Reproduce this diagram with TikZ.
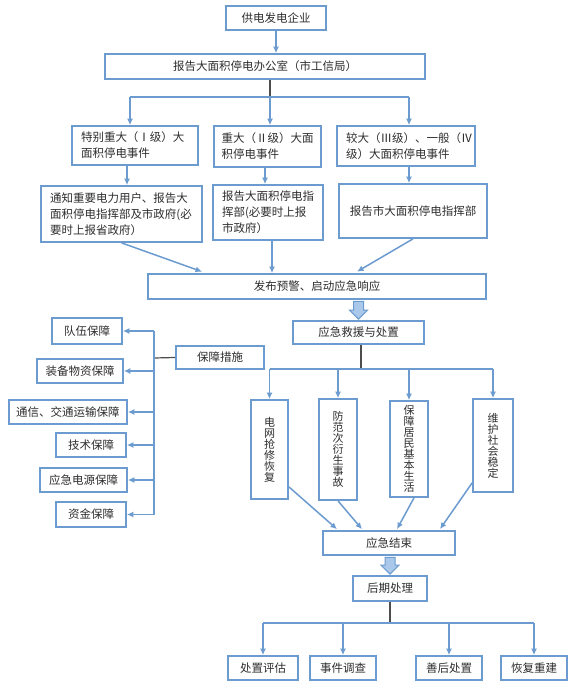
\documentclass[tikz,border=0pt]{standalone}
\usepackage{fontspec}
\newfontfamily\cjk{Noto Sans CJK SC}
\usetikzlibrary{arrows.meta,calc}
\definecolor{bb}{HTML}{6C9BD0}
\definecolor{sg}{HTML}{4D4D4D}
\definecolor{bf}{HTML}{A9C8EA}
\definecolor{tc}{HTML}{2E2E2E}
\tikzset{
  box/.style={draw=bb, line width=1.7pt, inner sep=0pt, text=tc, align=center,
    font=\cjk\fontsize{11.5}{16}\selectfont},
  vbox/.style={box, font=\cjk\fontsize{11}{11}\selectfont},
  arr/.style={draw=bb, line width=1.5pt, -{Latex[length=6.5pt,width=6pt]}},
  bus/.style={draw=bb, line width=1.5pt},
  stub/.style={draw=sg, line width=1.2pt},
  blk/.style={draw=bb, fill=bf, line width=1pt, line join=miter},
}
\newcommand\myblockarrow[2]{%
  \draw[blk] let \p1=(#1), \p2=(#2) in
    (\x2-5pt,\y1-1.5pt) -- (\x2+5pt,\y1-1.5pt) -- (\x2+5pt,\y2+10pt) --
    (\x2+9pt,\y2+10pt) -- (\x2,\y2+1pt) -- (\x2-9pt,\y2+10pt) --
    (\x2-5pt,\y2+10pt) -- cycle;}
\begin{document}
\begin{tikzpicture}[x=1pt,y=-1pt]
\useasboundingbox[fill=white] (0,0) rectangle (581,694);

% top
\node[box, minimum width=100, minimum height=24] (src) at (276,18) {供电发电企业};
\node[box, minimum width=320, minimum height=25] (office) at (265,66.5) {报告大面积停电办公室（市工信局）};

\node[box, minimum width=126, minimum height=39, text width=108, align=left] (l1a) at (135,145.5) {特别重大（Ⅰ级）大\\面积停电事件};
\node[box, minimum width=107, minimum height=41, text width=92, align=left] (l1b) at (267.5,146.5) {重大（Ⅱ级）大面\\积停电事件};
\node[box, minimum width=138, minimum height=40, text width=120, align=left] (l1c) at (406,146) {较大（Ⅲ级）、一般（Ⅳ\\级）大面积停电事件};

\node[box, minimum width=161, minimum height=56, text width=143, align=left] (l2a) at (121.5,214) {通知重要电力用户、报告大\\面积停电指挥部及市政府(必\\要时上报省政府）};
\node[box, minimum width=110, minimum height=55, text width=92, align=left] (l2b) at (268,212.5) {报告大面积停电指\\挥部(必要时上报\\市政府）};
\node[box, minimum width=148, minimum height=54] (l2c) at (413,211) {报告市大面积停电指挥部};

\node[box, minimum width=338, minimum height=25] (pub) at (317,286.5) {发布预警、启动应急响应};
\node[box, minimum width=131, minimum height=23] (rescue) at (358.5,332.5) {应急救援与处置};
\node[box, minimum width=88, minimum height=23] (guard) at (220,357.5) {保障措施};

% left guarantees
\node[box, minimum width=70, minimum height=26] (g1) at (87,331) {队伍保障};
\node[box, minimum width=86, minimum height=24] (g2) at (80,371) {装备物资保障};
\node[box, minimum width=118, minimum height=24] (g3) at (68,412) {通信、交通运输保障};
\node[box, minimum width=70, minimum height=24] (g4) at (91,445) {技术保障};
\node[box, minimum width=87, minimum height=24] (g5) at (83.5,480) {应急电源保障};
\node[box, minimum width=70, minimum height=25] (g6) at (91,514.5) {资金保障};

% vertical boxes
\node[vbox, minimum width=37, minimum height=99] (v1) at (269.5,449.5) {电\\网\\抢\\修\\恢\\复};
\node[vbox, minimum width=38, minimum height=101] (v2) at (338,449.5) {防\\范\\次\\衍\\生\\事\\故};
\node[vbox, minimum width=38, minimum height=96] (v3) at (409,449) {保\\障\\居\\民\\基\\本\\生\\活};
\node[vbox, minimum width=40, minimum height=93] (v4) at (493,445.5) {维\\护\\社\\会\\稳\\定};

\node[box, minimum width=132, minimum height=24] (end) at (389,543) {应急结束};
\node[box, minimum width=74, minimum height=25] (post) at (390,588.5) {后期处理};

\node[box, minimum width=70, minimum height=24] (b1) at (263,668) {处置评估};
\node[box, minimum width=66, minimum height=24] (b2) at (343,668) {事件调查};
\node[box, minimum width=66, minimum height=24] (b3) at (449,668) {善后处置};
\node[box, minimum width=66, minimum height=24] (b4) at (534,668) {恢复重建};

% coordinates
\coordinate (j1) at (270,97);
\coordinate (k1a) at (130,97);
\coordinate (k1c) at (409,97);
\coordinate (vl) at (154,358);
\coordinate (j2) at (361,369);
\coordinate (j3) at (390,623);

% connectors top
\draw[arr] (src.south) -- (src.south |- office.north);
\draw[stub] (office.south -| j1) -- (j1);
\draw[bus] (k1a) -- (k1c);
\draw[arr] (k1a) -- (k1a |- l1a.north);
\draw[arr] (j1) -- (j1 |- l1b.north);
\draw[arr] (k1c) -- (k1c |- l1c.north);

\draw[arr] ([xshift=-8pt]l1a.south) -- ([xshift=-8pt]l1a.south |- l2a.north);
\draw[arr] ([xshift=-2.5pt]l1b.south) -- ([xshift=-2.5pt]l1b.south |- l2b.north);
\draw[arr] ([xshift=3pt]l1c.south) -- ([xshift=3pt]l1c.south |- l2c.north);

\draw[arr] (l2a.south) -- ([xshift=-115pt,yshift=1.5pt]pub.north);
\draw[arr] ([xshift=4pt]l2b.south) -- ([xshift=4pt]l2b.south |- pub.north);
\draw[arr] (l2c.south) -- ([xshift=40pt,yshift=1.5pt]pub.north);

\myblockarrow{pub.south}{rescue.north}

% guarantees
\draw[stub] (guard.west) -- (vl);
\draw[bus] (vl |- g1.east) -- (vl |- g6.east);
\foreach \g in {g1,g2,g3,g4,g5,g6} {\draw[arr] (vl |- \g.east) -- (\g.east);}

% rescue branches
\draw[stub] (rescue.south -| j2) -- (j2);
\draw[bus] (v1.north |- j2) -- (v4.north |- j2);
\foreach \v in {v1,v2,v3,v4} {\draw[arr] (\v.north |- j2) -- (\v.north);}

\draw[arr] ([yshift=13pt]v1.south east) -- ([xshift=-52pt,yshift=1pt]end.north);
\draw[arr] (v2.south) -- ([xshift=-27pt,yshift=1pt]end.north);
\draw[arr] ([xshift=5pt]v3.south) -- ([xshift=8pt,yshift=1pt]end.north);
\draw[arr] ([yshift=10pt]v4.south west) -- ([xshift=51pt,yshift=1pt]end.north);

\myblockarrow{end.south}{post.north}

% post branches
\draw[stub] (post.south) -- (j3);
\draw[bus] (b1.north |- j3) -- (b4.north |- j3);
\foreach \b in {b1,b2,b3,b4} {\draw[arr] (\b.north |- j3) -- (\b.north);}
\end{tikzpicture}
\end{document}
